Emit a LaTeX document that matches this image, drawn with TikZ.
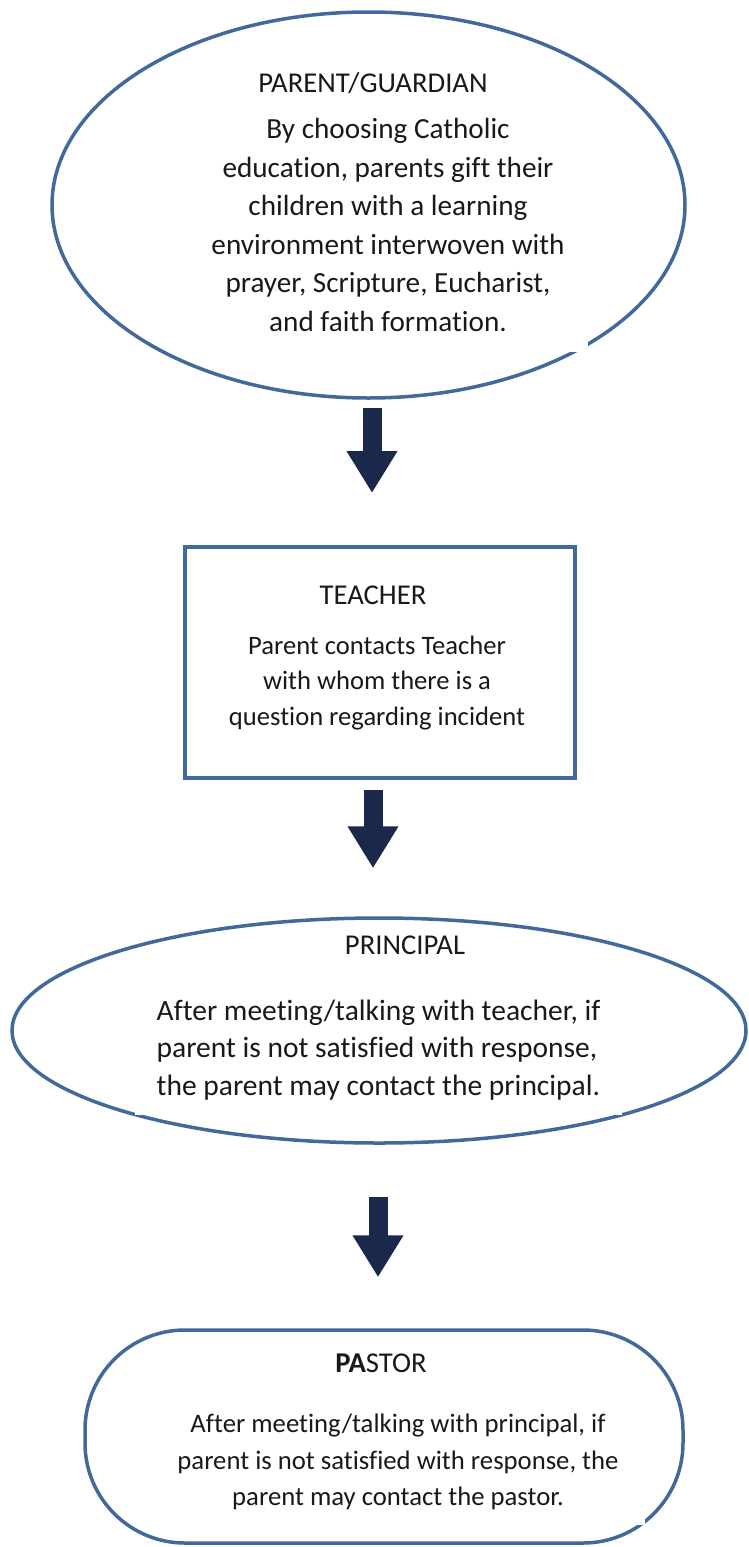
\documentclass[tikz,border=0pt]{standalone}
\usepackage{fontspec}
\setmainfont{Carlito}[Ligatures=NoCommon]
\usetikzlibrary{positioning, arrows.meta, shapes.geometric}
\definecolor{outlineblue}{RGB}{65,105,155}
\definecolor{arrownavy}{RGB}{25,40,75}
\definecolor{inkgrey}{RGB}{25,25,25}

\begin{document}
\begin{tikzpicture}[x=1pt, y=-1pt,
    every node/.style={text=inkgrey},
    step oval/.style={ellipse, draw=outlineblue, line width=3.5pt, inner sep=0pt},
    step box/.style={rectangle, draw=outlineblue, line width=4pt, inner sep=0pt},
    step pill/.style={rectangle, rounded corners=100pt, draw=outlineblue,
                      line width=3.5pt, inner sep=0pt},
    head text/.style={font=\fontsize{28.7pt}{34pt}\selectfont},
    body text/.style={fill=white, inner sep=0pt, align=center},
    fat arrow/.style={-{Triangle[width=48pt,length=42pt]}, line width=19pt, draw=arrownavy},
  ]

  \useasboundingbox (0,0) rectangle (748,1547);

  % ============ PARENT / GUARDIAN ============
  \node[step oval, minimum width=633pt, minimum height=386pt] (parent) at (368.5,205) {};
  \node[body text, font=\fontsize{29.2pt}{38.5pt}\selectfont,
        minimum width=400pt, minimum height=254pt] (parentbody) at (388,225) {%
    By choosing Catholic\\
    education, parents gift their\\
    children with a learning\\
    environment interwoven with\\
    prayer, Scripture, Eucharist,\\
    and faith formation.};
  \node[head text] (parenthead) at (373,83) {PARENT/GUARDIAN};

  % ============ TEACHER ============
  \node[step box, minimum width=390pt, minimum height=231pt] (teacher) at (380,662.5) {};
  \node[head text] (teacherhead) at (373,595) {TEACHER};
  \node[body text, font=\fontsize{26.6pt}{35.5pt}\selectfont] (teacherbody) at (377,683) {%
    Parent contacts Teacher\\
    with whom there is a\\
    question regarding incident};

  % ============ PRINCIPAL ============
  \node[step oval, minimum width=734pt, minimum height=225pt] (principal) at (379,1030.5) {};
  \node[body text, align=left, font=\fontsize{29.5pt}{37.5pt}\selectfont,
        minimum width=487pt, minimum height=130pt] (principalbody) at (378.5,1050) {%
    After meeting/talking with teacher, if\\
    parent is not satisfied with response,\\
    the parent may contact the principal.};
  \node[head text] (principalhead) at (405,945) {PRINCIPAL};

  % ============ PASTOR ============
  \node[step pill, minimum width=598pt, minimum height=213pt] (pastor) at (384,1436.5) {};
  \node[body text, font=\fontsize{26.7pt}{36.5pt}\selectfont,
        minimum width=494pt, minimum height=126pt] (pastorbody) at (398,1462) {%
    After meeting/talking with principal, if\\
    parent is not satisfied with response, the\\
    parent may contact the pastor.};
  \node[head text] (pastorhead) at (381,1363) {\textbf{PA}STOR};

  % ============ ARROWS ============
  \coordinate (a1) at ([xshift=3.5pt]parent.south);
  \coordinate (a2) at ([xshift=-7pt]teacher.south);
  \coordinate (a3) at ([xshift=-1pt]principal.south);
  \draw[fat arrow, shorten <=8pt, shorten >=52pt] (a1) -- (a1 |- teacher.north);
  \draw[fat arrow, shorten <=10pt, shorten >=48pt] (a2) -- (a2 |- principal.north);
  \draw[fat arrow, shorten <=52pt, shorten >=51pt] (a3) -- (a3 |- pastor.north);

\end{tikzpicture}
\end{document}
